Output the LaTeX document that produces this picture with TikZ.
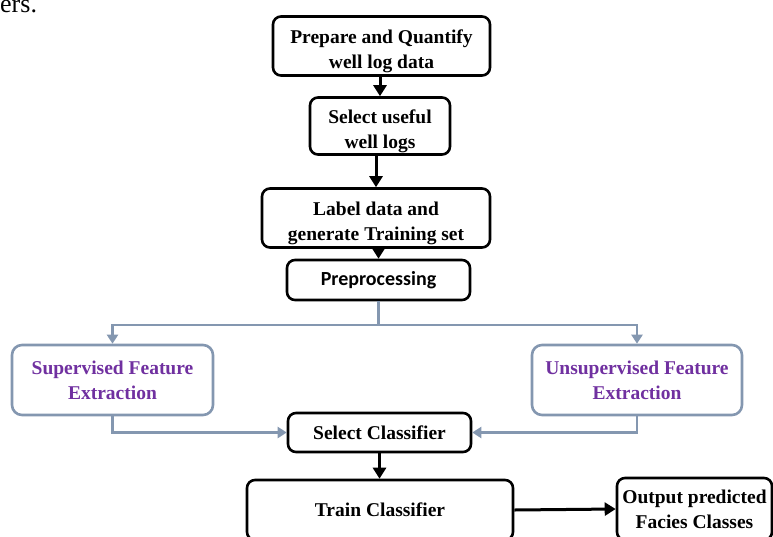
\documentclass[tikz,border=0pt]{standalone}
\usepackage{fontspec}
\setmainfont{Liberation Serif}
\newfontfamily\calib{Carlito}
\usetikzlibrary{arrows.meta}
\definecolor{gline}{RGB}{132,151,176}
\definecolor{purp}{RGB}{112,48,160}
\tikzset{
  bbox/.style={draw=black, line width=2.6pt, rounded corners=8pt, fill=white, align=center,
    font=\fontsize{19.5}{25}\selectfont\bfseries, inner sep=0pt},
  btext/.style={align=center, font=\fontsize{19.5}{25}\selectfont\bfseries, inner sep=0pt},
  gbox/.style={draw=gline, line width=2.6pt, rounded corners=10pt, fill=white, align=center,
    text=purp, font=\fontsize{19.5}{25}\selectfont\bfseries, inner sep=0pt},
  arr/.style={line width=3pt, -{Triangle[length=11pt,width=13pt]}},
  garr/.style={draw=gline, line width=2.6pt, -{Triangle[length=9pt,width=11pt]}}
}
\begin{document}
\begin{tikzpicture}[x=1pt,y=-1pt]
\useasboundingbox (0,0) rectangle (773,536);
\node[anchor=base west, inner sep=0pt, font=\fontsize{26}{30}\selectfont] (frag) at (0,12) {ers.};
\node[bbox, minimum width=217pt, minimum height=59pt] (b1) at (381.5,46) {};
\node[btext] (b1t) at ([yshift=-5pt]b1.center) {Prepare and Quantify\\well log data};
\node[bbox, minimum width=140pt, minimum height=57pt] (b2) at (380,126) {};
\node[btext] (b2t) at ([yshift=-5pt]b2.center) {Select useful\\well logs};
\node[bbox, minimum width=228pt, minimum height=59pt] (b3) at (376,218) {};
\node[btext] (b3t) at ([yshift=-5pt]b3.center) {Label data and\\generate Training set};
\node[bbox, minimum width=183pt, minimum height=40pt, font=\calib\fontsize{20}{24}\selectfont\bfseries] (pre) at (378.5,280) {Preprocessing};
\node[gbox, minimum width=201pt, minimum height=70pt] (sup) at (112.5,380) {Supervised Feature\\Extraction};
\node[gbox, minimum width=210pt, minimum height=70pt] (uns) at (637,380) {Unsupervised Feature\\Extraction};
\node[bbox, minimum width=183pt, minimum height=39pt] (sel) at (379.5,432.5) {Select Classifier};
\node[bbox, minimum width=266pt, minimum height=60pt] (tr) at (380,510) {Train Classifier};
\node[bbox, minimum width=155pt, minimum height=62pt] (out) at (694.5,509) {Output predicted\\Facies Classes};
\coordinate (j) at (378.5,325);
\draw[arr] (b1.south -| b2.north) -- (b2.north);
\draw[arr] (b2.south -| b3.north) -- (b3.north);
\draw[arr] (b3.south -| pre.north) -- (pre.north);
\draw[garr] (pre.south) -- (j) -| (sup.north);
\draw[garr] (j) -| (uns.north);
\draw[garr] (sup.south) |- (sel.west);
\draw[garr] (uns.south) |- (sel.east);
\draw[arr] (sel.south) -- (sel.south |- tr.north);
\draw[arr] (tr.east) -- (out.west);
\end{tikzpicture}
\end{document}
